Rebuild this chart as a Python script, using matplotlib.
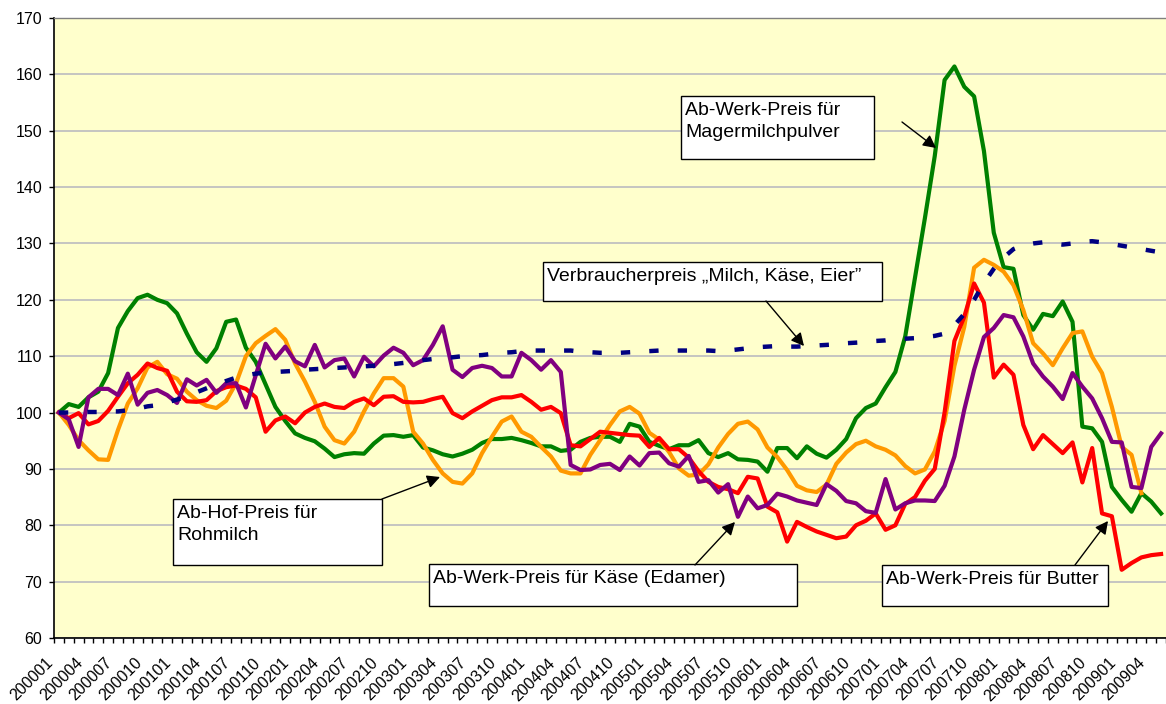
import matplotlib
matplotlib.use("Agg")
import matplotlib.pyplot as plt
from matplotlib.patches import Rectangle, FancyArrowPatch
from matplotlib.transforms import ScaledTranslation
import numpy as np

plt.rcParams['font.family'] = ['Liberation Sans', 'DejaVu Sans']

# ---------------- data ----------------
months = [f"{2000 + i // 12}{i % 12 + 1:02d}" for i in range(113)]  # 200001 .. 200905
label_step = 3

magermilchpulver = [
    100.0, 101.5, 101.0, 102.7, 103.7, 107.0, 115.0, 118.0, 120.3, 120.9,
    120.0, 119.4, 117.6, 114.0, 110.7, 109.0, 111.4, 116.1, 116.5, 111.5,
    109.0, 105.0, 101.0, 98.5, 96.3, 95.5, 94.9, 93.6, 92.1, 92.6,
    92.8, 92.7, 94.5, 95.9, 96.0, 95.7, 96.0, 93.8, 93.3, 92.6,
    92.2, 92.7, 93.4, 94.6, 95.3, 95.3, 95.5, 95.1, 94.6, 94.0,
    94.0, 93.2, 93.4, 94.8, 95.5, 95.7, 95.7, 94.8, 98.0, 97.5,
    94.8, 94.1, 93.5, 94.2, 94.2, 95.1, 92.8, 92.1, 92.8, 91.7,
    91.6, 91.3, 89.5, 93.7, 93.7, 91.9, 94.0, 92.7, 92.0, 93.4,
    95.3, 99.0, 100.8, 101.6, 104.5, 107.2, 113.5, 124.0, 134.5, 145.5,
    159.0, 161.4, 157.8, 156.1, 146.4, 131.9, 125.8, 125.5, 117.3, 114.7,
    117.5, 117.1, 119.7, 116.1, 97.5, 97.2, 94.8, 86.8, 84.5, 82.4,
    85.7, 84.2, 82.1,
]

rohmilch = [
    100.0, 97.8, 95.1, 93.3, 91.7, 91.6, 96.9, 101.6, 104.3, 108.0,
    109.0, 106.8, 106.0, 103.7, 102.2, 101.2, 100.8, 102.1, 105.2, 110.0,
    112.3, 113.6, 114.8, 112.9, 108.7, 105.5, 101.9, 97.5, 95.1, 94.5,
    96.6, 100.2, 103.4, 106.1, 106.1, 104.6, 96.6, 94.5, 91.6, 89.2,
    87.7, 87.4, 89.2, 92.8, 95.7, 98.4, 99.3, 96.6, 95.7, 93.9,
    92.2, 89.7, 89.2, 89.2, 92.5, 95.1, 97.8, 100.2, 101.0, 99.8,
    96.4, 95.2, 93.0, 90.1, 88.8, 89.0, 90.8, 93.8, 96.2, 98.0,
    98.4, 97.0, 93.8, 92.1, 89.8, 87.0, 86.2, 85.9, 87.2, 90.9,
    92.9, 94.4, 95.0, 94.0, 93.4, 92.4, 90.5, 89.2, 89.9, 93.1,
    98.5, 108.3, 115.2, 125.7, 127.1, 126.2, 125.0, 122.6, 118.2, 112.3,
    110.5, 108.4, 111.4, 114.1, 114.4, 109.9, 107.0, 101.0, 93.9, 92.5,
    85.7,
]

butter = [
    100.0, 99.0, 99.9, 97.9, 98.5, 100.3, 102.8, 105.2, 106.7, 108.7,
    107.9, 107.4, 103.7, 102.0, 101.9, 102.2, 103.8, 104.5, 104.8, 104.2,
    102.7, 96.6, 98.6, 99.3, 98.1, 100.0, 101.0, 101.6, 101.0, 100.8,
    101.9, 102.5, 101.3, 102.8, 102.9, 101.9, 101.8, 101.9, 102.4, 102.8,
    99.9, 99.0, 100.2, 101.2, 102.2, 102.7, 102.7, 103.1, 101.9, 100.5,
    101.0, 99.9, 94.2, 94.0, 95.3, 96.6, 96.4, 96.2, 96.0, 95.9,
    93.9, 95.5, 93.5, 93.5, 92.0, 89.6, 87.7, 86.8, 86.4, 85.7,
    88.6, 88.3, 83.3, 82.3, 77.1, 80.6, 79.7, 78.9, 78.3, 77.7,
    78.0, 80.0, 80.8, 82.1, 79.2, 80.0, 83.8, 85.0, 87.9, 90.0,
    100.0, 112.7, 117.0, 122.9, 119.5, 106.2, 108.5, 106.7, 97.8, 93.5,
    96.0, 94.4, 92.8, 94.7, 87.6, 93.7, 82.1, 81.6, 72.1, 73.3,
    74.3, 74.7, 74.9,
]

kaese = [
    100.0, 98.8, 93.9, 102.7, 104.2, 104.2, 103.1, 106.9, 101.4, 103.5,
    104.0, 103.1, 101.7, 105.9, 104.8, 105.8, 103.5, 105.2, 105.2, 100.9,
    106.6, 112.2, 109.6, 111.7, 109.1, 108.2, 112.0, 108.0, 109.3, 109.6,
    106.4, 109.9, 108.2, 110.1, 111.5, 110.6, 108.4, 109.3, 112.0, 115.3,
    107.6, 106.3, 107.9, 108.3, 107.9, 106.4, 106.4, 110.6, 109.3, 107.6,
    109.3, 107.2, 90.7, 89.8, 89.9, 90.7, 90.9, 89.8, 92.2, 90.6,
    92.8, 92.9, 91.0, 90.4, 92.3, 87.7, 88.0, 85.8, 87.3, 81.5,
    85.1, 83.0, 83.6, 85.6, 85.1, 84.4, 84.0, 83.6, 87.3, 86.1,
    84.3, 83.9, 82.5, 82.2, 88.2, 82.8, 83.9, 84.4, 84.4, 84.3,
    87.0, 92.2, 100.5, 107.6, 113.4, 115.0, 117.3, 116.9, 113.5, 108.7,
    106.4, 104.6, 102.4, 107.0, 104.6, 102.5, 99.0, 94.8, 94.7, 86.8,
    86.6, 93.9, 96.3,
]

verbraucherpreis = [
    100.0, 100.0, 100.0, 100.1, 100.1, 100.2, 100.2, 100.4, 100.7, 101.1,
    101.3, 101.8, 102.3, 102.9, 103.6, 104.3, 105.0, 105.6, 106.2, 106.6,
    106.9, 107.1, 107.2, 107.3, 107.4, 107.6, 107.7, 107.8, 107.9, 108.0,
    108.1, 108.2, 108.3, 108.4, 108.6, 108.8, 109.0, 109.3, 109.5, 109.7,
    109.8, 110.0, 110.1, 110.2, 110.4, 110.6, 110.7, 110.9, 111.0, 111.0,
    111.0, 111.0, 111.0, 110.8, 110.7, 110.6, 110.6, 110.6, 110.7, 110.8,
    110.9, 111.0, 111.0, 111.0, 111.0, 111.0, 111.0, 110.9, 111.0, 111.2,
    111.4, 111.6, 111.7, 111.8, 111.7, 111.7, 111.8, 111.9, 112.0, 112.1,
    112.3, 112.4, 112.5, 112.7, 112.8, 113.0, 113.1, 113.2, 113.4, 113.6,
    114.0, 115.5, 117.5, 120.0, 123.0, 125.5, 127.5, 129.0, 129.7, 130.0,
    130.2, 130.0, 129.8, 130.0, 130.3, 130.4, 130.2, 129.9, 129.6, 129.3,
    129.0, 128.7, 128.4,
]

y_ticks = list(range(60, 171, 10))

annotations = [
    ("Ab-Werk-Preis für\nMagermilchpulver", (681, 96, 874, 159), (902, 122), (936, 148)),
    ("Verbraucherpreis „Milch, Käse, Eier”", (543, 262, 882, 301), (766, 301), (804, 346)),
    ("Ab-Hof-Preis für\nRohmilch", (173, 499, 382, 565), (382, 499), (440, 477)),
    ("Ab-Werk-Preis für Käse (Edamer)", (429, 564, 797, 606), (695, 565), (735, 522)),
    ("Ab-Werk-Preis für Butter", (882, 565, 1108, 606), (1075, 565), (1108, 521)),
]

# ---------------- figure ----------------
W, H = 1166, 704
fig = plt.figure(figsize=(W / 100, H / 100), dpi=100)
fig.patch.set_facecolor('white')

ax_left, ax_top, ax_bottom = 54, 18, 638
ax = fig.add_axes([ax_left / W, (H - ax_bottom) / H, (W - ax_left) / W, (ax_bottom - ax_top) / H])
ax.set_facecolor('#FFFFCC')

x_all = np.arange(len(months))
lw = 3.0
ax.plot(np.arange(len(magermilchpulver)), magermilchpulver, color='#008000', lw=lw, zorder=3)
ax.plot(np.arange(len(rohmilch)), rohmilch, color='#FF9900', lw=lw, zorder=4)
ax.plot(np.arange(len(butter)), butter, color='#FF0000', lw=lw, zorder=5)
ax.plot(np.arange(len(kaese)), kaese, color='#800080', lw=lw, zorder=6)
ax.plot(np.arange(len(verbraucherpreis)), verbraucherpreis, color='#000080', lw=3.2,
        dashes=(2.1, 4.3), dash_capstyle='butt', zorder=7)

px_per_cat = 9.88
ax.set_xlim(-0.5, -0.5 + (W - ax_left) / px_per_cat)
ax.set_ylim(60, 170)

ax.set_yticks(y_ticks)
ax.yaxis.grid(True, color='#C0C0C0', lw=1.3)
ax.set_axisbelow(True)
ax.tick_params(axis='y', direction='out', length=3.6, width=1, labelsize=11.5, pad=5, colors='black')

major_pos = x_all[::label_step]
ax.set_xticks(major_pos)
ax.set_xticklabels([months[i] for i in major_pos], rotation=45, ha='right', va='top',
                   rotation_mode='anchor', fontsize=11.5)
ax.set_xticks(np.arange(-0.5, len(months) + 0.5, 1), minor=True)
ax.tick_params(axis='x', which='major', length=0, pad=12.5)
ax.tick_params(axis='x', which='minor', direction='out', length=3.6, width=1)
offset = ScaledTranslation(-0.135, 0, fig.dpi_scale_trans)
for lab in ax.xaxis.get_majorticklabels():
    lab.set_transform(lab.get_transform() + offset)

for s in ('left', 'bottom'):
    ax.spines[s].set_color('black')
    ax.spines[s].set_linewidth(1.2)
ax.spines['top'].set_color('#808080')
ax.spines['top'].set_linewidth(1.0)
ax.spines['right'].set_visible(False)

# ---------------- annotation boxes ----------------
def fx(x):
    return x / W

def fy(y):
    return 1 - y / H

for text, (x0, y0, x1, y1), (sx, sy), (tx, ty) in annotations:
    rect = Rectangle((fx(x0), fy(y1)), fx(x1) - fx(x0), fy(y0) - fy(y1),
                     transform=fig.transFigure, facecolor='white', edgecolor='black',
                     lw=1.0, zorder=10)
    fig.add_artist(rect)
    fig.text(fx(x0 + 4), fy(y0 + 6), text, transform=fig.transFigure, ha='left', va='top',
             fontsize=14, linespacing=1.38, zorder=11, color='black')
    arr = FancyArrowPatch((fx(sx), fy(sy)), (fx(tx), fy(ty)), transform=fig.transFigure,
                          arrowstyle='-|>,head_length=0.55,head_width=0.28', mutation_scale=14,
                          color='black', lw=1.0, shrinkA=0, shrinkB=0, zorder=11)
    fig.add_artist(arr)

fig.savefig('out.png', dpi=100)
